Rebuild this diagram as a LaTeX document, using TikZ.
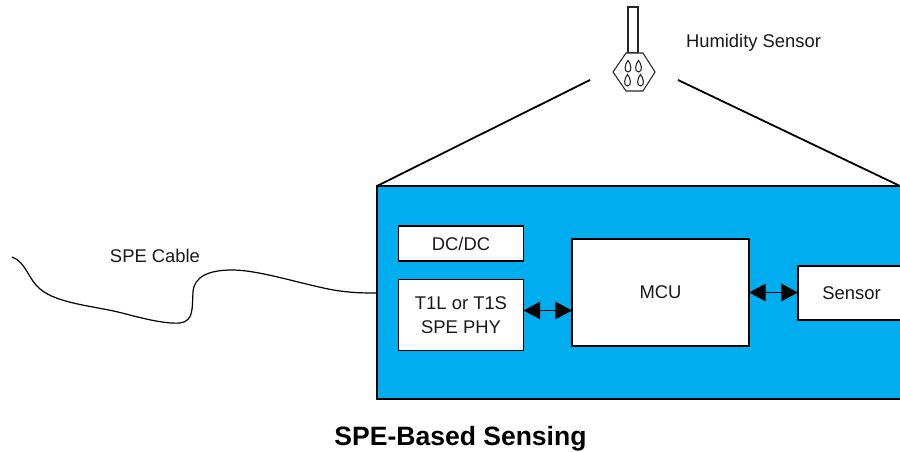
\documentclass[tikz,border=0pt]{standalone}
\usepackage{fontspec}
\setmainfont{Liberation Sans}
\usetikzlibrary{arrows.meta,calc}
\definecolor{enclblue}{RGB}{0,174,239}
\tikzset{
  px/.style={x=0.75pt,y=-0.75pt},
  box/.style={draw=black,line width=1.35pt,outer sep=0pt,fill=white,inner sep=0pt,align=center,font=\fontsize{13.8}{17.5}\selectfont,text=black!90},
  wire/.style={draw=black,line width=1.35pt},
  link/.style={draw=black,line width=1.35pt,{Triangle[length=12.5pt,width=13pt]}-{Triangle[length=12.5pt,width=13pt]}},
  lbl/.style={font=\fontsize{13.8}{17}\selectfont,inner sep=0pt,text=black!90},
  part/.style={draw=black!85,line width=0.8pt,outer sep=0pt,fill=white},
  drop/.style={draw=black!85,line width=0.8pt}
}
\newcommand{\dropshape}[2]{\draw[drop] (#1,#2-6) .. controls (#1+3,#2-3) and (#1+4.6,#2+5.5) .. (#1,#2+5.5) .. controls (#1-4.6,#2+5.5) and (#1-3,#2-3) .. (#1,#2-6) -- cycle;}
\begin{document}
\begin{tikzpicture}[px]
\useasboundingbox (0,0) rectangle (900,452);
\clip (0,0) rectangle (900,452);
\fill[white] (0,0) rectangle (900,452);
% enclosure
\node[draw=black,line width=1.35pt,outer sep=0pt,fill=enclblue,inner sep=0pt,minimum width=0.75*535pt,minimum height=0.75*213pt,anchor=north west] (encl) at (377,186) {};
\coordinate (hl) at (590,80);
\coordinate (hr) at (678,80);
\coordinate (er) at (900,186);
\draw[wire] (encl.north west) -- (hl);
\draw[wire] (hr) -- (er);
% boxes
\node[box,minimum width=0.75*125pt,minimum height=0.75*35pt,anchor=north west] (dc) at (398.5,226) {DC/DC};
\node[box,minimum width=0.75*125pt,minimum height=0.75*71pt,anchor=north west] (phy) at (398.5,279.5) {T1L or T1S\\SPE PHY};
\node[box,minimum width=0.75*177pt,minimum height=0.75*107pt,anchor=north west] (mcu) at (572,239) {MCU};
\node[box,minimum width=0.75*107pt,minimum height=0.75*54pt,anchor=north west] (sens) at (798,266) {Sensor};
\coordinate (a1) at (540,310.5);
\coordinate (a2) at (770,292.5);
\draw[link] (phy.east |- a1) -- (mcu.west |- a1);
\draw[link] (mcu.east |- a2) -- (sens.west |- a2);
% cable
\coordinate (c0) at (12,257);
\coordinate (c5) at (377,293);
\draw[draw=black,line width=0.9pt] (c0) .. controls (26,262) and (28,279) .. (40,289)
  .. controls (58,304) and (95,306) .. (122,313)
  .. controls (145,319) and (165,324) .. (180,323)
  .. controls (194,321) and (192,308) .. (193,292)
  .. controls (194,276) and (210,270) .. (232,270)
  .. controls (262,270) and (310,287) .. (340,291)
  .. controls (355,293) and (365,293) .. (c5);
\node[lbl,anchor=center] (cablel) at (155,255.5) {SPE Cable};
% humidity sensor
\node[part,inner sep=0pt,minimum width=0.75*10pt,minimum height=0.75*46pt,anchor=north west] (stem) at (628,7) {};
\draw[part] (613,72) -- (626,53) -- (643,53) -- (655,72) -- (643,91) -- (626,91) -- cycle;
\dropshape{628}{66.5}
\dropshape{638.5}{66.5}
\dropshape{627.5}{80.5}
\dropshape{640.5}{80.5}
\node[lbl,anchor=center] (huml) at (753.5,43) {Humidity Sensor};
\node[inner sep=0pt,font=\fontsize{19.9}{24}\bfseries\selectfont] (title) at (460.5,439) {SPE-Based Sensing};
\end{tikzpicture}
\end{document}
